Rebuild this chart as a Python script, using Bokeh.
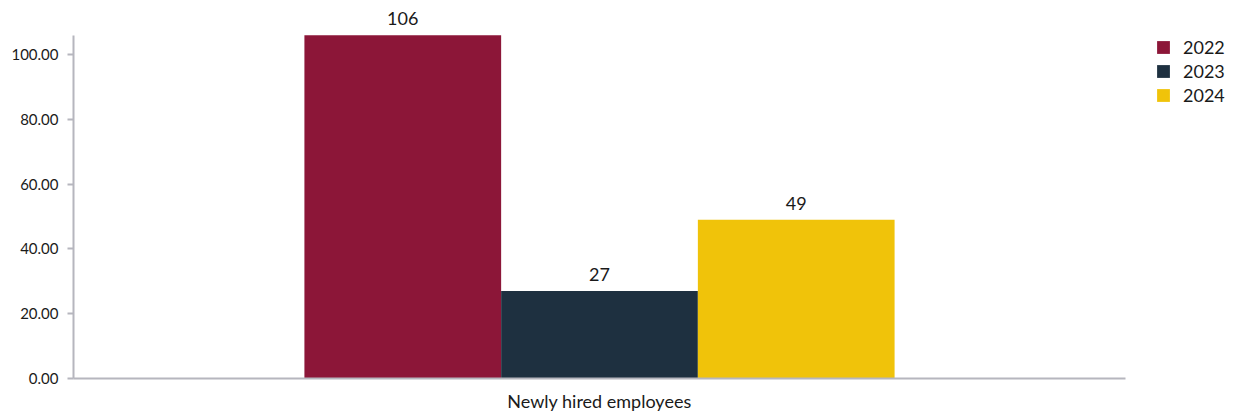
from bokeh.plotting import figure
from bokeh.models import ColumnDataSource, Range1d, Legend, LegendItem, NumeralTickFormatter, FixedTicker
from bokeh.transform import dodge
from bokeh.core.properties import value
from bokeh.embed import file_html
from bokeh.resources import INLINE

categories = ["Newly hired employees"]
years = ["2022", "2023", "2024"]
values_2022 = [106]
values_2023 = [27]
values_2024 = [49]
colors = ["#8C1638", "#1E3040", "#F0C30A"]
y_ticks = [0, 20, 40, 60, 80, 100]

FONT = "Lato"

# category band occupies 1052 px of the 1167 px frame; the rest holds the legend
x_end = -0.5 + 1167 / 1052
p = figure(width=1240, height=417, x_range=Range1d(-0.5, x_end),
           y_range=Range1d(0, 116.7), output_backend="svg", toolbar_location=None,
           min_border_left=73, min_border_right=0, min_border_top=0, min_border_bottom=39)

idx = list(range(len(categories)))
src = ColumnDataSource(dict(x=idx, y2022=values_2022, y2023=values_2023, y2024=values_2024,
                            l2022=[str(v) for v in values_2022], l2023=[str(v) for v in values_2023],
                            l2024=[str(v) for v in values_2024]))

bw = 0.187
offsets = [-bw, 0.0, bw]
renderers = []
for yr, off, col in zip(years, offsets, colors):
    r = p.vbar(x=dodge("x", off), top="y" + yr, width=bw, source=src,
               fill_color=col, line_color=None)
    renderers.append(r)
    p.text(x=dodge("x", off), y="y" + yr, text="l" + yr, source=src,
           text_align="center", text_baseline="bottom", y_offset=-10,
           text_font=value(FONT), text_font_size="18px", text_color="#1a1a1a")

legend = Legend(items=[LegendItem(label=yr, renderers=[r]) for yr, r in zip(years, renderers)],
                location=(1082, 272), orientation="vertical", padding=0, margin=0, spacing=2,
                glyph_width=16, glyph_height=16, label_standoff=12,
                label_text_font=FONT, label_text_font_size="18px", label_text_color="#1a1a1a",
                border_line_color=None, background_fill_alpha=0)
p.add_layout(legend, "center")

p.xgrid.grid_line_color = None
p.ygrid.grid_line_color = None
p.outline_line_color = None

axis_col = "#b6b6be"
all_vals = values_2022 + values_2023 + values_2024
p.yaxis.ticker = FixedTicker(ticks=y_ticks)
p.yaxis.formatter = NumeralTickFormatter(format="0.00")
p.yaxis.bounds = (0, max(all_vals))
p.yaxis.axis_line_color = axis_col
p.yaxis.axis_line_width = 2
p.yaxis.major_tick_line_color = axis_col
p.yaxis.major_tick_line_width = 2
p.yaxis.major_tick_out = 6
p.yaxis.major_tick_in = 0
p.yaxis.minor_tick_line_color = None
p.yaxis.major_label_standoff = 9
p.yaxis.major_label_text_font = FONT
p.yaxis.major_label_text_font_size = "15px"
p.yaxis.major_label_text_color = "#1a1a1a"

p.xaxis.ticker = FixedTicker(ticks=idx)
p.xaxis.major_label_overrides = {i: c for i, c in zip(idx, categories)}
p.xaxis.bounds = (-0.5, len(categories) - 0.5)
p.xaxis.axis_line_color = axis_col
p.xaxis.axis_line_width = 2
p.xaxis.major_tick_line_color = None
p.xaxis.minor_tick_line_color = None
p.xaxis.major_tick_out = 0
p.xaxis.major_tick_in = 0
p.xaxis.major_label_standoff = 11
p.xaxis.major_label_text_font = FONT
p.xaxis.major_label_text_font_size = "18px"
p.xaxis.major_label_text_color = "#1a1a1a"

open("out.html", "w").write(file_html(p, INLINE))
